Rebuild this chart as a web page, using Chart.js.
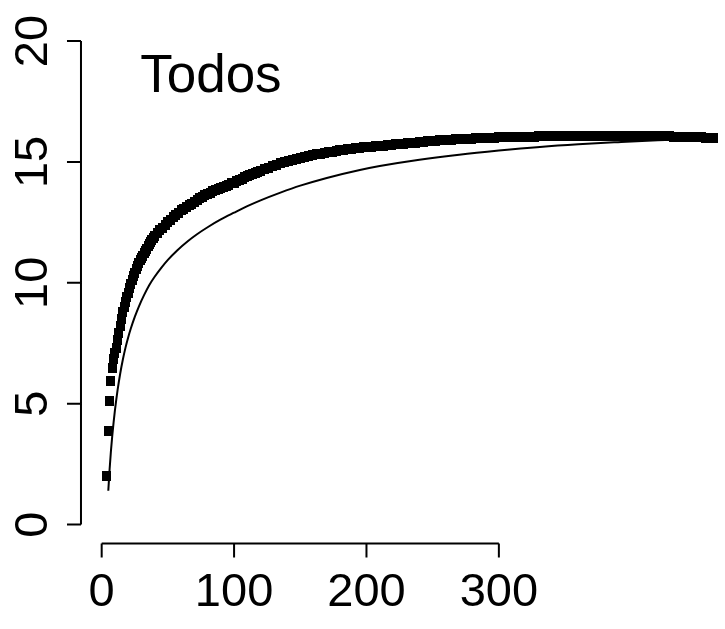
<!DOCTYPE html>
<html>
<head>
<meta charset="utf-8">
<script src="https://cdn.jsdelivr.net/npm/chart.js@4/dist/chart.umd.min.js"></script>
<style>
html,body{margin:0;padding:0;background:#fff;}
#wrap{width:725px;height:629px;}
</style>
</head>
<body>
<div id="wrap"><canvas id="c" width="725" height="629"></canvas></div>
<script>
// ---- Data ----
const panelTitle = "Todos";
const xTicks = [0, 100, 200, 300];
const yTicks = [0, 5, 10, 15, 20];

// observed accumulation (square markers)
const obsX = [
  4,5,6,7,8,9,10,11,12,13,14,15,16,17,18,19,20,21,22,23,24,25,26,27,28,29,30,31,32,33,34,35,36,37,38,39,40,
  42,44,46,48,50,52,54,56,58,60,62,64,66,68,70,72,74,76,78,80,82,84,86,88,90,92,94,96,98,100,102,104,106,108,110,112,114,116,118,120,
  123,126,129,132,135,138,141,144,147,150,153,156,159,162,165,168,171,174,177,180,183,186,189,192,195,198,201,204,207,210,
  213,216,219,222,225,228,231,234,237,240,243,246,249,252,255,258,261,264,267,270,273,276,279,282,285,288,291,294,297,300,
  303,306,309,312,315,318,321,324,327,330,333,336,339,342,345,348,351,354,357,360,363,366,369,372,375,378,381,384,387,390,
  393,396,399,402,405,408,411,414,417,420,423,426,429,432,435,438,441,444,447,450,453,456,459,462
];
const obsY = [
  2.00,3.87,5.10,5.94,6.48,6.86,7.08,7.30,7.62,7.93,8.22,8.50,8.78,9.01,9.22,9.43,9.60,9.80,9.96,10.12,10.27,10.40,10.56,10.69,10.80,10.93,11.02,11.10,11.22,11.30,11.41,11.52,11.60,11.68,11.79,11.86,11.95,
  12.06,12.18,12.28,12.40,12.52,12.60,12.72,12.82,12.88,13.00,13.05,13.12,13.20,13.27,13.36,13.43,13.49,13.55,13.62,13.68,13.73,13.79,13.83,13.88,13.92,13.97,14.02,14.06,14.11,14.15,14.21,14.26,14.31,14.37,14.42,14.46,14.50,14.55,14.59,14.63,
  14.70,14.76,14.83,14.89,14.95,14.99,15.04,15.08,15.13,15.17,15.20,15.24,15.27,15.31,15.34,15.37,15.40,15.43,15.46,15.48,15.50,15.52,15.54,15.56,15.58,15.60,15.61,15.63,15.64,15.66,
  15.68,15.69,15.71,15.73,15.75,15.75,15.77,15.78,15.80,15.81,15.83,15.85,15.86,15.87,15.89,15.90,15.91,15.92,15.93,15.95,15.96,15.96,15.97,15.98,15.99,15.99,16.00,16.01,16.01,16.02,
  16.02,16.03,16.03,16.04,16.04,16.04,16.05,16.05,16.05,16.06,16.06,16.06,16.06,16.07,16.07,16.07,16.07,16.07,16.08,16.08,16.08,16.08,16.08,16.08,16.08,16.08,16.08,16.08,16.08,16.08,
  16.08,16.08,16.08,16.08,16.07,16.07,16.07,16.07,16.07,16.06,16.06,16.06,16.06,16.05,16.05,16.05,16.04,16.04,16.03,16.03,16.02,16.01,16.00,15.99
];

// fitted curve (thin line)
const fitX = [5,6,7,8,9,10,11,12,14,16,18,20,22,25,28,32,36,40,45,50,57,65,72,80,90,100,110,120,135,150,170,195,210,240,270,300,331,360,390,420,462];
const fitY = [1.40,2.30,3.05,3.68,4.23,4.72,5.16,5.56,6.25,6.83,7.32,7.74,8.11,8.59,9.01,9.49,9.91,10.25,10.62,10.95,11.34,11.72,12.01,12.30,12.62,12.90,13.17,13.41,13.73,14.02,14.34,14.67,14.83,15.09,15.30,15.47,15.62,15.73,15.82,15.90,15.98];

// ---- Styles ----
const FONT = '"Liberation Sans", Arial, Helvetica, sans-serif';
const tickFontPx = 47;
const titleFontPx = 53;

// square marker (slightly taller than wide, as in reference)
const marker = document.createElement('canvas');
marker.width = 9; marker.height = 10;
(function(){ const g = marker.getContext('2d'); g.fillStyle = '#000'; g.fillRect(0,0,9,10); })();

const rAxes = {
  id: 'rAxes',
  afterDraw(chart) {
    const ctx = chart.ctx;
    const xs = chart.scales.x, ys = chart.scales.y;
    ctx.save();
    ctx.strokeStyle = '#000';
    ctx.fillStyle = '#000';
    ctx.lineWidth = 2;
    ctx.lineCap = 'butt';

    // Y axis (R style, offset from plot)
    const yAxisX = xs.getPixelForValue(0) - 20.7;
    const y0 = ys.getPixelForValue(yTicks[0]);
    const y1 = ys.getPixelForValue(yTicks[yTicks.length - 1]);
    ctx.beginPath();
    ctx.moveTo(yAxisX, y0); ctx.lineTo(yAxisX, y1);
    yTicks.forEach(t => {
      const py = ys.getPixelForValue(t);
      ctx.moveTo(yAxisX, py); ctx.lineTo(yAxisX - 14, py);
    });
    ctx.stroke();
    ctx.font = tickFontPx + 'px ' + FONT;
    ctx.textAlign = 'center';
    ctx.textBaseline = 'alphabetic';
    yTicks.forEach(t => {
      const py = ys.getPixelForValue(t);
      ctx.save();
      ctx.translate(yAxisX - 34, py);
      ctx.rotate(-Math.PI / 2);
      ctx.fillText(String(t), 0, 0);
      ctx.restore();
    });

    // X axis
    const xAxisY = ys.getPixelForValue(0) + 19;
    const x0 = xs.getPixelForValue(xTicks[0]);
    const x1 = xs.getPixelForValue(xTicks[xTicks.length - 1]);
    ctx.beginPath();
    ctx.moveTo(x0, xAxisY); ctx.lineTo(x1, xAxisY);
    xTicks.forEach(t => {
      const px = xs.getPixelForValue(t);
      ctx.moveTo(px, xAxisY); ctx.lineTo(px, xAxisY + 14);
    });
    ctx.stroke();
    xTicks.forEach(t => {
      const px = xs.getPixelForValue(t);
      ctx.fillText(String(t), px, xAxisY + 62);
    });

    // Panel title
    ctx.font = titleFontPx + 'px ' + FONT;
    ctx.textAlign = 'left';
    ctx.fillText(panelTitle, xs.getPixelForValue(0) + 38.5, ys.getPixelForValue(20) + 51);
    ctx.restore();
  }
};

new Chart(document.getElementById('c'), {
  type: 'scatter',
  data: {
    datasets: [
      {
        label: 'observed',
        data: obsX.map((x, i) => ({x, y: obsY[i]})),
        pointStyle: marker,
        pointRadius: 5,
        showLine: false,
        order: 0
      },
      {
        label: 'fit',
        data: fitX.map((x, i) => ({x, y: fitY[i]})),
        showLine: true,
        pointRadius: 0,
        borderColor: '#000',
        borderWidth: 2,
        cubicInterpolationMode: 'monotone',
        fill: false,
        order: 1
      }
    ]
  },
  options: {
    responsive: false,
    animation: false,
    devicePixelRatio: 1,
    layout: { padding: 0, autoPadding: false },
    clip: false,
    plugins: { legend: { display: false }, tooltip: { enabled: false }, title: { display: false } },
    scales: {
      x: { type: 'linear', min: -76.8, max: 470.8, display: false },
      y: { type: 'linear', min: -4.32, max: 21.70, display: false }
    }
  },
  plugins: [rAxes]
});
</script>
</body>
</html>
